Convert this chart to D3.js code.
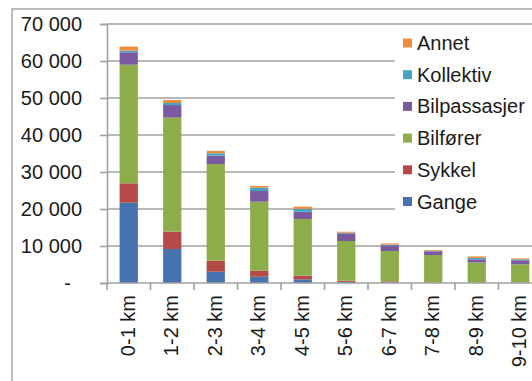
<!DOCTYPE html>
<html>
<head>
<meta charset="utf-8">
<script src="https://cdn.jsdelivr.net/npm/d3@7"></script>
<style>
    body { margin: 0; background: #fff; }
    text { font-family: "Liberation Sans", Arial, sans-serif; fill: #1a1a1a; }
</style>
</head>
<body>
<svg id="chart"></svg>
<script>
var categories = ["0-1 km", "1-2 km", "2-3 km", "3-4 km", "4-5 km", "5-6 km", "6-7 km", "7-8 km", "8-9 km", "9-10 km"];
var seriesNames = ["Gange", "Sykkel", "Bilfører", "Bilpassasjer", "Kollektiv", "Annet"];
var gange = [21700, 9200, 3050, 1700, 1000, 300, 150, 80, 60, 50];
var sykkel = [5250, 4700, 3000, 1600, 1000, 300, 300, 100, 60, 50];
var bilforer = [32050, 30800, 26100, 18670, 15300, 10750, 8200, 7390, 5420, 4950];
var bilpassasjer = [3350, 3400, 2250, 2900, 1950, 2050, 1550, 1000, 850, 1100];
var kollektiv = [450, 550, 650, 900, 800, 200, 200, 150, 400, 250];
var annet = [1100, 800, 650, 450, 600, 250, 300, 200, 400, 250];
var yTicks = [0, 10000, 20000, 30000, 40000, 50000, 60000, 70000];

function init() {
    var w = 532;
    var h = 381;
    var left = 107, top = 24, bottom = 283, right = 542;
    var colors = ["#4672ad", "#b44a47", "#8dac4a", "#7a5a9e", "#45a4c0", "#ef8c3a"];
    var values = [gange, sykkel, bilforer, bilpassasjer, kollektiv, annet];
    var fontSize = "20px";

    var rows = categories.map(function (c, i) {
        var r = { cat: c };
        seriesNames.forEach(function (s, j) { r[s] = values[j][i]; });
        return r;
    });
    var stacked = d3.stack().keys(seriesNames)(rows);

    var svg = d3.select("#chart").attr("width", w).attr("height", h);

    var xScale = d3.scaleBand()
        .domain(categories)
        .range([left, right])
        .paddingInner(0.58)
        .paddingOuter(0.29);

    var yScale = d3.scaleLinear()
        .domain([0, 70000])
        .range([bottom, top]);

    // outer frame
    svg.append("rect")
        .attr("x", 12).attr("y", 9)
        .attr("width", 700).attr("height", 700)
        .attr("fill", "none")
        .attr("stroke", "#a6a6a6")
        .attr("stroke-width", 1.5);

    // gridlines
    svg.selectAll("line.grid")
        .data(yTicks.slice(1))
        .enter()
        .append("line")
        .attr("class", "grid")
        .attr("x1", left).attr("x2", w)
        .attr("y1", function (d) { return yScale(d); })
        .attr("y2", function (d) { return yScale(d); })
        .attr("stroke", "#a0a0a0")
        .attr("stroke-width", 1.6);

    // y axis
    var yAxis = d3.axisLeft(yScale)
        .tickValues(yTicks)
        .tickSize(7)
        .tickFormat(function (d) {
            return d === 0 ? "-" : d3.format(",")(d).replace(",", " ");
        });
    var gy = svg.append("g")
        .attr("transform", "translate(" + left + ",0)")
        .call(yAxis);
    gy.select(".domain").attr("stroke", "#a0a0a0").attr("stroke-width", 1.6);
    gy.selectAll(".tick line").attr("stroke", "#a0a0a0").attr("stroke-width", 1.6);
    gy.selectAll(".tick text")
        .attr("x", -25)
        .style("font-size", fontSize)
        .style("font-family", "Liberation Sans, Arial, sans-serif")
        .attr("fill", "#1a1a1a");
    gy.selectAll(".tick text").filter(function (d) { return d === 0; })
        .attr("x", -36);

    // bars
    svg.selectAll("g.layer")
        .data(stacked)
        .enter()
        .append("g")
        .attr("class", "layer")
        .attr("fill", function (d, i) { return colors[i]; })
        .selectAll("rect")
        .data(function (d) { return d; })
        .enter()
        .append("rect")
        .attr("x", function (d) { return xScale(d.data.cat); })
        .attr("y", function (d) { return yScale(d[1]); })
        .attr("width", xScale.bandwidth())
        .attr("height", function (d) { return yScale(d[0]) - yScale(d[1]); });

    // x axis
    var step = xScale.step();
    var xTicks = d3.range(categories.length + 1).map(function (i) { return left + i * step; });
    svg.append("line")
        .attr("x1", left).attr("x2", w)
        .attr("y1", bottom).attr("y2", bottom)
        .attr("stroke", "#a0a0a0").attr("stroke-width", 1.6);
    svg.selectAll("line.xtick")
        .data(xTicks)
        .enter()
        .append("line")
        .attr("class", "xtick")
        .attr("x1", function (d) { return d; }).attr("x2", function (d) { return d; })
        .attr("y1", bottom).attr("y2", bottom + 7)
        .attr("stroke", "#a0a0a0").attr("stroke-width", 1.6);

    svg.selectAll("text.xlabel")
        .data(categories)
        .enter()
        .append("text")
        .attr("class", "xlabel")
        .attr("text-anchor", "end")
        .attr("transform", function (d) {
            return "translate(" + (xScale(d) + xScale.bandwidth() / 2 + 6) + "," + (bottom + 12) + ") rotate(-90)";
        })
        .style("font-size", fontSize)
        .text(function (d) { return d; });

    // legend
    var legend = svg.append("g");
    legend.append("rect")
        .attr("x", 395).attr("y", 28)
        .attr("width", 200).attr("height", 190)
        .attr("fill", "#fff");
    var legendItems = seriesNames.slice().reverse();
    var item = legend.selectAll("g.item")
        .data(legendItems)
        .enter()
        .append("g")
        .attr("class", "item")
        .attr("transform", function (d, i) { return "translate(403," + (43 + i * 31.7) + ")"; });
    item.append("rect")
        .attr("x", 0).attr("y", -4.5)
        .attr("width", 9).attr("height", 9)
        .attr("fill", function (d) { return colors[seriesNames.indexOf(d)]; });
    item.append("text")
        .attr("x", 14)
        .attr("dy", "0.35em")
        .style("font-size", fontSize)
        .text(function (d) { return d; });
}
window.onload = init;
</script>
</body>
</html>
